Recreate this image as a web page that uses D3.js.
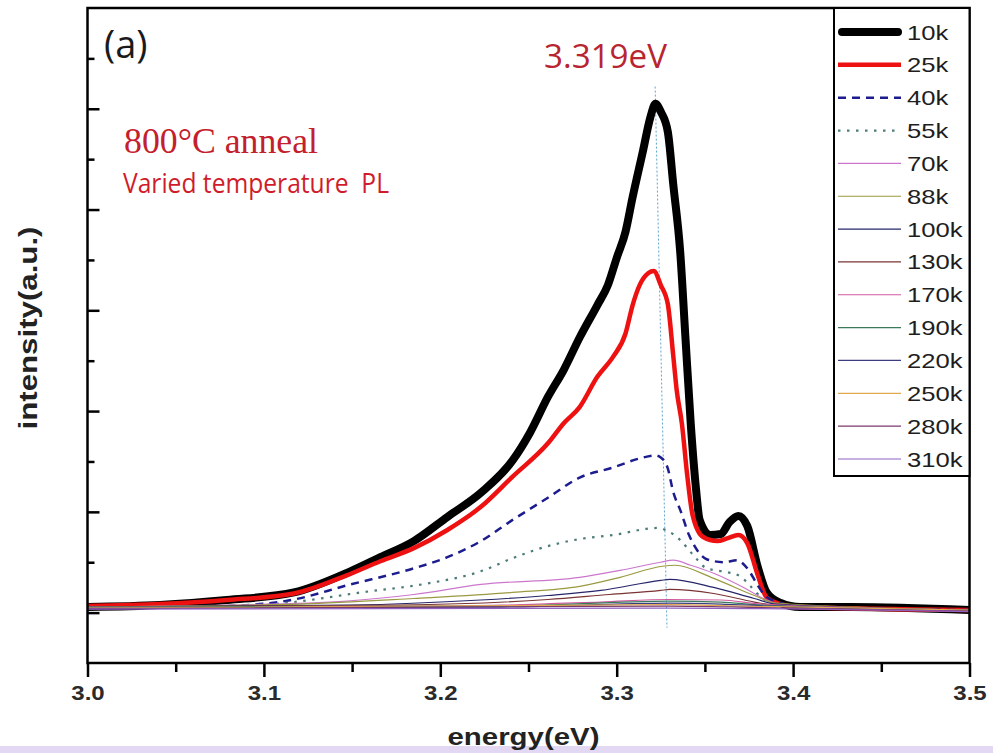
<!DOCTYPE html>
<html>
<head>
<meta charset="utf-8">
<script src="https://cdn.jsdelivr.net/npm/d3@7"></script>
<style>
body { margin: 0; background: #fff; }
svg { display: block; }
</style>
</head>
<body>
<svg id="chart" width="993" height="753"></svg>
<script>
// PL spectra, [energy (eV), intensity (a.u.)]
var pl10k = [[3.000,0.055],[3.041,0.075],[3.079,0.125],[3.117,0.20],[3.149,0.41],[3.166,0.55],[3.185,0.71],
  [3.204,0.95],[3.223,1.19],[3.241,1.51],[3.251,1.79],[3.261,2.14],[3.270,2.41],[3.279,2.73],[3.289,3.05],
  [3.295,3.25],[3.300,3.52],[3.305,3.78],[3.309,4.12],[3.315,4.59],[3.319,4.91],[3.322,5.05],[3.325,4.97],
  [3.329,4.77],[3.332,4.26],[3.336,3.58],[3.339,2.72],[3.342,1.87],[3.345,1.22],[3.347,0.92],[3.353,0.77],
  [3.359,0.78],[3.364,0.90],[3.369,0.96],[3.374,0.86],[3.380,0.45],[3.385,0.20],[3.393,0.095],[3.404,0.055],
  [3.433,0.055],[3.500,0.025]];
var pl25k = [[3.000,0.065],[3.041,0.085],[3.079,0.125],[3.117,0.19],[3.147,0.37],[3.166,0.51],[3.185,0.64],
  [3.204,0.82],[3.223,1.05],[3.241,1.35],[3.261,1.68],[3.270,1.88],[3.279,2.04],[3.289,2.34],[3.298,2.54],
  [3.305,2.77],[3.309,3.05],[3.313,3.25],[3.318,3.37],[3.321,3.39],[3.325,3.25],[3.329,3.06],[3.332,2.56],
  [3.334,2.21],[3.337,1.87],[3.340,1.36],[3.343,0.97],[3.349,0.75],[3.357,0.71],[3.363,0.74],[3.369,0.77],
  [3.374,0.69],[3.380,0.37],[3.385,0.15],[3.393,0.085],[3.404,0.055],[3.500,0.025]];
var pl40k = [[3.000,0.045],[3.079,0.065],[3.117,0.13],[3.147,0.27],[3.185,0.44],[3.204,0.55],[3.223,0.71],
  [3.241,0.92],[3.261,1.14],[3.279,1.34],[3.298,1.44],[3.313,1.53],[3.322,1.56],[3.325,1.54],[3.329,1.43],
  [3.332,1.20],[3.336,1.02],[3.341,0.77],[3.346,0.61],[3.351,0.53],[3.361,0.50],[3.368,0.52],[3.374,0.44],
  [3.380,0.27],[3.384,0.17],[3.393,0.095],[3.404,0.055],[3.500,0.025]];
var pl55k = [[3.000,0.045],[3.079,0.055],[3.117,0.105],[3.155,0.20],[3.193,0.29],[3.223,0.41],[3.241,0.54],
  [3.261,0.66],[3.279,0.73],[3.298,0.77],[3.323,0.84],[3.329,0.81],[3.336,0.72],[3.343,0.58],[3.351,0.44],
  [3.363,0.40],[3.370,0.36],[3.376,0.26],[3.382,0.15],[3.390,0.085],[3.404,0.055],[3.500,0.025]];
var pl70k = [[3.000,0.055],[3.079,0.075],[3.147,0.115],[3.185,0.18],[3.223,0.28],[3.279,0.35],[3.302,0.42],
  [3.325,0.50],[3.332,0.52],[3.342,0.47],[3.355,0.39],[3.374,0.23],[3.385,0.125],[3.396,0.075],[3.500,0.025]];
var pl88k = [[3.000,0.055],[3.121,0.085],[3.185,0.14],[3.241,0.20],[3.279,0.26],[3.302,0.35],[3.326,0.46],
  [3.333,0.47],[3.355,0.34],[3.378,0.17],[3.390,0.095],[3.500,0.025]];
var pl100k = [[3.000,0.055],[3.149,0.075],[3.223,0.125],[3.261,0.17],[3.291,0.22],[3.325,0.32],[3.330,0.33],
  [3.355,0.25],[3.378,0.14],[3.390,0.085],[3.500,0.025]];
var pl130k = [[3.000,0.055],[3.177,0.075],[3.261,0.13],[3.296,0.18],[3.325,0.22],[3.330,0.23],[3.355,0.19],
  [3.378,0.105],[3.393,0.065],[3.500,0.025]];
var pl170k = [[3.000,0.055],[3.205,0.065],[3.291,0.105],[3.330,0.13],[3.359,0.125],[3.382,0.085],[3.500,0.025]];
var pl190k = [[3.000,0.055],[3.234,0.065],[3.330,0.115],[3.359,0.105],[3.382,0.075],[3.500,0.025]];
var pl220k = [[3.000,0.045],[3.234,0.055],[3.330,0.095],[3.359,0.085],[3.387,0.065],[3.500,0.025]];
var pl250k = [[3.000,0.045],[3.330,0.08],[3.370,0.065],[3.500,0.025]];
var pl280k = [[3.000,0.04],[3.330,0.065],[3.382,0.05],[3.500,0.015]];
var pl310k = [[3.000,0.035],[3.330,0.045],[3.500,0.01]];

var seriesNames = ["10k","25k","40k","55k","70k","88k","100k","130k","170k","190k","220k","250k","280k","310k"];
var seriesData = [pl10k, pl25k, pl40k, pl55k, pl70k, pl88k, pl100k, pl130k, pl170k, pl190k, pl220k, pl250k, pl280k, pl310k];

var xTicks = [3.0, 3.1, 3.2, 3.3, 3.4, 3.5];
var xMinorTicks = [3.05, 3.15, 3.25, 3.35, 3.45];
var yTicks = [0, 1, 2, 3, 4, 5];
var yMinorTicks = [0.5, 1.5, 2.5, 3.5, 4.5, 5.5];

var peakLine = [[3.3218, 5.22], [3.3285, -0.15]];
var peakLabel = "3.319eV";

// line styles, same order as seriesNames
var styles = [
  {color: "#000000", width: 8,   dash: null},
  {color: "#ee1111", width: 4.5, dash: null},
  {color: "#1c1c8e", width: 2.5, dash: "8,6"},
  {color: "#4c7c78", width: 2.2, dash: "2.5,6.5"},
  {color: "#cc77cc", width: 1.2, dash: null},
  {color: "#9a9a40", width: 1.2, dash: null},
  {color: "#26266a", width: 1.2, dash: null},
  {color: "#7a3434", width: 1.2, dash: null},
  {color: "#d05aa0", width: 1.2, dash: null},
  {color: "#3a7a5a", width: 1.2, dash: null},
  {color: "#3c3c80", width: 1.2, dash: null},
  {color: "#e0a850", width: 1.2, dash: null},
  {color: "#7c3a6c", width: 1.2, dash: null},
  {color: "#9060c0", width: 1.2, dash: null}
];

var svg = d3.select("#chart");
var plotLeft = 87.5, plotRight = 969.5, plotTop = 8, plotBottom = 663;

var x = d3.scaleLinear().domain([3.0, 3.5]).range([plotLeft, plotRight]);
var y = d3.scaleLinear().domain([-0.5, 6]).range([plotBottom, plotTop]);

function stretch(sel, k) {
  sel.each(function() {
    var w = this.getComputedTextLength();
    d3.select(this).attr("textLength", w * k).attr("lengthAdjust", "spacingAndGlyphs");
  });
}

// artefact strip at the very bottom of the scan
svg.append("rect").attr("x", 0).attr("y", 746).attr("width", 993).attr("height", 7).attr("fill", "#e2d8f4");

// peak marker
svg.append("path")
  .datum(peakLine)
  .attr("d", d3.line().x(function(d) { return x(d[0]); }).y(function(d) { return y(d[1]); }))
  .attr("fill", "none")
  .attr("stroke", "#5fa6d0")
  .attr("stroke-width", 1)
  .attr("stroke-dasharray", "2,2");

var line = d3.line()
  .x(function(d) { return x(d[0]); })
  .y(function(d) { return y(d[1]); })
  .curve(d3.curveMonotoneX);

var plot = svg.append("g");
seriesData.forEach(function(data, i) {
  var s = styles[i];
  plot.append("path")
    .datum(data)
    .attr("d", line)
    .attr("fill", "none")
    .attr("stroke", s.color)
    .attr("stroke-width", s.width)
    .attr("stroke-linejoin", "round")
    .attr("stroke-dasharray", s.dash);
});

// axes
var xAxis = svg.append("g").attr("transform", "translate(0," + plotBottom + ")")
  .call(d3.axisBottom(x).tickValues(xTicks).tickSize(14).tickFormat(d3.format(".1f")));
var xMinor = svg.append("g").attr("transform", "translate(0," + plotBottom + ")")
  .call(d3.axisBottom(x).tickValues(xMinorTicks).tickSize(9).tickFormat(""));
var yAxis = svg.append("g").attr("transform", "translate(" + plotLeft + ",0)")
  .call(d3.axisRight(y).tickValues(yTicks).tickSize(12).tickFormat(""));
var yMinor = svg.append("g").attr("transform", "translate(" + plotLeft + ",0)")
  .call(d3.axisRight(y).tickValues(yMinorTicks).tickSize(7).tickFormat(""));

[xAxis, xMinor, yAxis, yMinor].forEach(function(g) {
  g.select(".domain").remove();
  g.selectAll("line").attr("stroke", "#000").attr("stroke-width", 2.5);
});

xAxis.selectAll("text")
  .attr("y", 37).attr("dy", null)
  .attr("fill", "#2a2a2a")
  .style("font-family", "'Liberation Sans', Arial, sans-serif")
  .style("font-size", "20px")
  .style("font-weight", "bold")
  .call(stretch, 1.2);

// frame
svg.append("rect")
  .attr("x", plotLeft).attr("y", plotTop)
  .attr("width", plotRight - plotLeft).attr("height", plotBottom - plotTop)
  .attr("fill", "none").attr("stroke", "#000").attr("stroke-width", 2.5);

// legend
var legendX = 834;
var row = d3.scalePoint().domain(seriesNames).range([32, 459]);
var legend = svg.append("g");
legend.append("rect")
  .attr("x", legendX).attr("y", plotTop)
  .attr("width", plotRight - legendX).attr("height", 476 - plotTop)
  .attr("fill", "#fff").attr("stroke", "#000").attr("stroke-width", 2);

seriesNames.forEach(function(name, i) {
  var s = styles[i];
  var yy = row(name);
  legend.append("line")
    .attr("x1", i === 0 ? 842 : 838).attr("x2", i === 0 ? 898 : 901)
    .attr("y1", yy).attr("y2", yy)
    .attr("stroke", s.color)
    .attr("stroke-width", i === 0 ? 8 : s.width)
    .attr("stroke-linecap", i === 0 ? "round" : "butt")
    .attr("stroke-dasharray", s.dash);
  legend.append("text")
    .attr("x", 907).attr("y", yy + 7.5)
    .attr("fill", "#1e1e1e")
    .style("font-family", "'Liberation Sans', Arial, sans-serif")
    .style("font-size", "21px")
    .text(name)
    .call(stretch, 1.22);
});

// annotations
svg.append("text")
  .attr("x", 104).attr("y", 58)
  .attr("fill", "#1a1a1a")
  .style("font-family", "'Open Sans', sans-serif")
  .style("font-size", "38px")
  .text("(a)");

svg.append("text")
  .attr("x", 544).attr("y", 68)
  .attr("fill", "#b82530")
  .style("font-family", "'Open Sans', sans-serif")
  .style("font-size", "32px")
  .text(peakLabel)
  .attr("textLength", 123).attr("lengthAdjust", "spacingAndGlyphs");

svg.append("text")
  .attr("x", 124).attr("y", 153)
  .attr("fill", "#c4202c")
  .style("font-family", "'Liberation Serif', 'Times New Roman', serif")
  .style("font-size", "35px")
  .text("800°C anneal")
  .attr("textLength", 194).attr("lengthAdjust", "spacingAndGlyphs");

svg.append("text")
  .attr("x", 123).attr("y", 193)
  .attr("fill", "#d01c2a")
  .style("font-family", "'Open Sans', sans-serif")
  .style("font-size", "28px")
  .style("white-space", "pre")
  .text("Varied temperature  PL")
  .attr("textLength", 266).attr("lengthAdjust", "spacingAndGlyphs");

// axis titles
svg.append("text")
  .attr("x", (plotLeft + plotRight) / 2 - 5).attr("y", 745)
  .attr("text-anchor", "middle")
  .attr("fill", "#222")
  .style("font-family", "'Liberation Sans', Arial, sans-serif")
  .style("font-size", "23px")
  .style("font-weight", "bold")
  .text("energy(eV)")
  .attr("textLength", 152).attr("lengthAdjust", "spacingAndGlyphs");

svg.append("text")
  .attr("transform", "translate(37,328) rotate(-90)")
  .attr("text-anchor", "middle")
  .attr("fill", "#222")
  .style("font-family", "'Liberation Sans', Arial, sans-serif")
  .style("font-size", "25px")
  .style("font-weight", "bold")
  .text("intensity(a.u.)")
  .attr("textLength", 203).attr("lengthAdjust", "spacingAndGlyphs");
</script>
</body>
</html>
